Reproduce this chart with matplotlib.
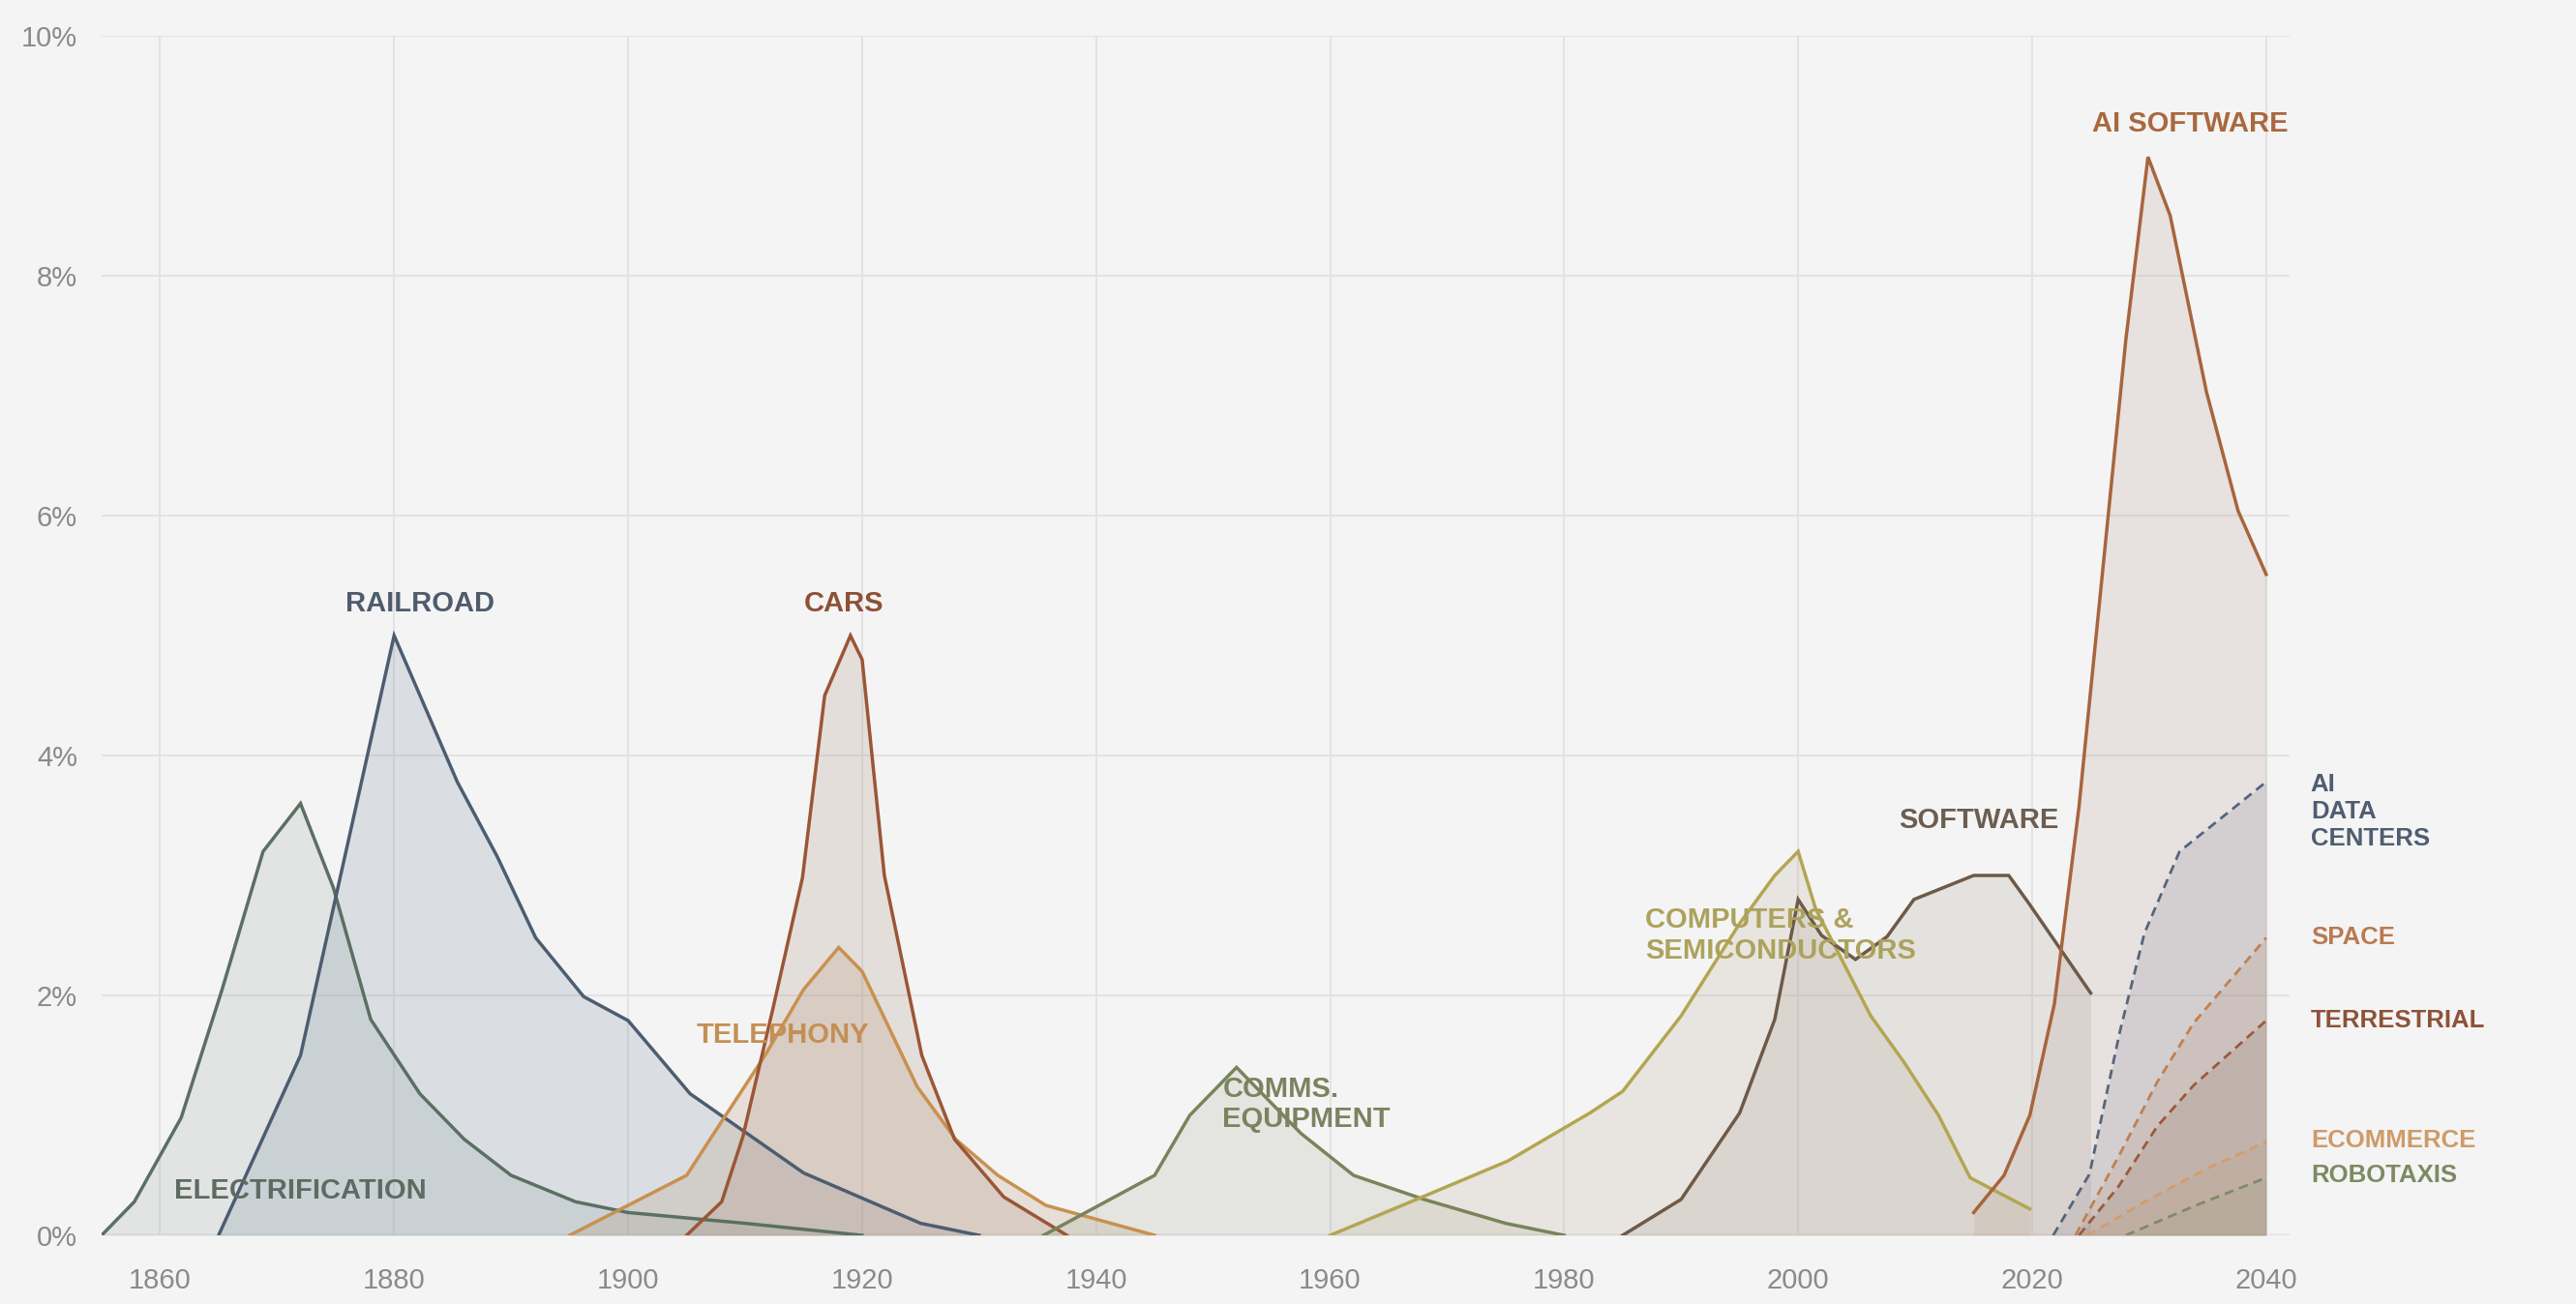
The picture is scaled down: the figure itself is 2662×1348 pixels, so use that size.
import matplotlib.pyplot as plt

# years / share of GDP (%)
elec_years = [1855, 1857.8, 1861.8, 1865.3, 1868.8, 1872, 1874.8, 1878, 1882.2, 1886, 1890, 1895.5, 1900, 1910, 1920]
elec = [0, 0.28, 0.98, 2.05, 3.2, 3.6, 2.9, 1.8, 1.18, 0.8, 0.5, 0.28, 0.19, 0.1, 0]

rail_years = [1865, 1872, 1880, 1885.4, 1888.8, 1892.1, 1896.2, 1900, 1905.3, 1915, 1925, 1930]
rail = [0, 1.5, 5.0, 3.78, 3.16, 2.48, 1.99, 1.79, 1.18, 0.52, 0.1, 0]

cars_years = [1905, 1908, 1909.8, 1912.4, 1914.9, 1916.8, 1919, 1920, 1921.9, 1925.1, 1927.9, 1932.1, 1937.5]
cars = [0, 0.28, 0.82, 1.9, 2.98, 4.5, 5.0, 4.8, 3.0, 1.5, 0.8, 0.32, 0]

tel_years = [1895, 1905, 1908, 1911.7, 1915, 1918, 1920, 1924.7, 1928, 1931.6, 1935.7, 1945]
tel = [0, 0.5, 0.95, 1.5, 2.05, 2.4, 2.2, 1.24, 0.8, 0.5, 0.25, 0]

comms_years = [1935.5, 1945, 1948, 1952, 1957.5, 1962, 1968, 1975, 1980]
comms = [0, 0.5, 1.0, 1.4, 0.85, 0.5, 0.3, 0.1, 0]

comp_years = [1960, 1967.4, 1975.2, 1982.2, 1985, 1990, 1995, 1998, 2000, 2001.5, 2006.2, 2009, 2012, 2014.7, 2019.8]
comp = [0, 0.3, 0.62, 1.02, 1.2, 1.83, 2.6, 3.0, 3.2, 2.72, 1.83, 1.45, 1.0, 0.48, 0.22]

soft_years = [1985, 1990, 1995, 1998, 2000, 2002, 2004.9, 2007.6, 2009.9, 2015, 2018, 2019.7, 2025]
soft = [0, 0.3, 1.02, 1.8, 2.8, 2.5, 2.3, 2.49, 2.8, 3.0, 3.0, 2.77, 2.02]

ai_years = [2015, 2017.6, 2019.8, 2021.9, 2024, 2028, 2029.9, 2031.8, 2034.9, 2037.6, 2040]
ai = [0.19, 0.5, 1.0, 1.93, 3.57, 7.46, 8.99, 8.5, 7.03, 6.04, 5.51]

# projections (dashed)
dc_years = [2021.8, 2024.9, 2027.5, 2029.6, 2032.6, 2034.9, 2040]
dc = [0, 0.51, 1.7, 2.52, 3.2, 3.38, 3.78]
space_years = [2023.7, 2027.4, 2030.7, 2033.8, 2040]
space = [0, 0.66, 1.28, 1.77, 2.48]
terr_years = [2024, 2027.4, 2030.7, 2033.8, 2040]
terr = [0, 0.41, 0.91, 1.25, 1.79]
ecom_years = [2024.7, 2030, 2035, 2040]
ecom = [0, 0.3, 0.56, 0.78]
robo_years = [2028, 2034, 2040]
robo = [0, 0.25, 0.48]

x_ticks = [1860, 1880, 1900, 1920, 1940, 1960, 1980, 2000, 2020, 2040]
y_ticks = [0, 2, 4, 6, 8, 10]

bg = "#f4f4f4"
plt.rcParams['font.family'] = ['Liberation Sans', 'DejaVu Sans']

fig = plt.figure(figsize=(26.62, 13.48), dpi=100, facecolor=bg)
ax = fig.add_axes([105 / 2662, 1 - 1277 / 1348, (2366 - 105) / 2662, (1277 - 37) / 1348])
ax.set_facecolor(bg)

# (x, y, line colour, fill colour)
solid = [
    (elec_years, elec, "#5b6f63", "#95a49f"),
    (rail_years, rail, "#4d5d70", "#72869a"),
    (tel_years, tel, "#c8914f", "#ae8a64"),
    (cars_years, cars, "#9a5636", "#a48677"),
    (comms_years, comms, "#78845a", "#a4a990"),
    (comp_years, comp, "#b3a652", "#b8a990"),
    (soft_years, soft, "#6e5a48", "#a49a8b"),
    (ai_years, ai, "#a7653d", "#b3958b"),
]
for xs, ys, c, fc in solid:
    ax.fill_between(xs, ys, 0, color=fc, alpha=0.2, lw=0, zorder=2)
    ax.plot(xs, ys, color=c, lw=2.5, zorder=4, solid_joinstyle='miter')

dashed = [
    (dc_years, dc, "#56657a", "#868b9a"),
    (space_years, space, "#c08050", "#b08a70"),
    (terr_years, terr, "#9b5a3c", "#9a7a68"),
    (ecom_years, ecom, "#d39d6a", "#c0a080"),
    (robo_years, robo, "#7f8b62", "#9aa080"),
]
for xs, ys, c, fc in dashed:
    ax.fill_between(xs, ys, 0, color=fc, alpha=0.2, lw=0, zorder=2)
    ax.plot(xs, ys, color=c, lw=2.0, ls=(0, (3.5, 2.2)), zorder=4)

# labels
lab = dict(fontsize=21, fontweight='bold', zorder=5)
ax.text(1882.2, 5.27, "RAILROAD", color="#4e5b6c", ha='center', va='center', **lab)
ax.text(1918.4, 5.27, "CARS", color="#8e5036", ha='center', va='center', **lab)
ax.text(1861.2, 0.37, "ELECTRIFICATION", color="#5d6b62", ha='left', va='center', **lab)
ax.text(1905.8, 1.67, "TELEPHONY", color="#c48f55", ha='left', va='center', **lab)
ax.text(1950.8, 1.09, "COMMS.\nEQUIPMENT", color="#7b8360", ha='left', va='center', linespacing=1.15, **lab)
ax.text(1986.9, 2.5, "COMPUTERS &\nSEMICONDUCTORS", color="#ada25c", ha='left', va='center', linespacing=1.15, **lab)
ax.text(2015.4, 3.46, "SOFTWARE", color="#6b5e50", ha='center', va='center', **lab)
ax.text(2033.5, 9.27, "AI SOFTWARE", color="#a9683f", ha='center', va='center', **lab)

rl = dict(fontsize=18.5, fontweight='bold', ha='left', va='center', clip_on=False, zorder=5)
ax.text(2043.8, 3.53, "AI\nDATA\nCENTERS", color="#4f5d70", linespacing=1.2, **rl)
ax.text(2043.8, 2.48, "SPACE", color="#b97a52", **rl)
ax.text(2043.8, 1.79, "TERRESTRIAL", color="#8e5238", **rl)
ax.text(2043.8, 0.79, "ECOMMERCE", color="#cf9a68", **rl)
ax.text(2043.8, 0.50, "ROBOTAXIS", color="#7d8a62", **rl)

ax.set_xlim(1855, 2042)
ax.set_ylim(0, 10)
ax.set_xticks(x_ticks)
ax.set_yticks(y_ticks)
ax.set_yticklabels([f"{v}%" for v in y_ticks])
ax.tick_params(axis='both', length=0, labelsize=21, labelcolor="#8a8a8e")
ax.tick_params(axis='x', pad=24)
ax.tick_params(axis='y', pad=18)
ax.grid(True, color="#e3e3e3", lw=1.5, zorder=0)
ax.axhline(0, color="#d6d6d6", lw=2.5, zorder=1)
for s in ax.spines.values():
    s.set_visible(False)

plt.savefig("out.png", dpi=100, facecolor=bg)
